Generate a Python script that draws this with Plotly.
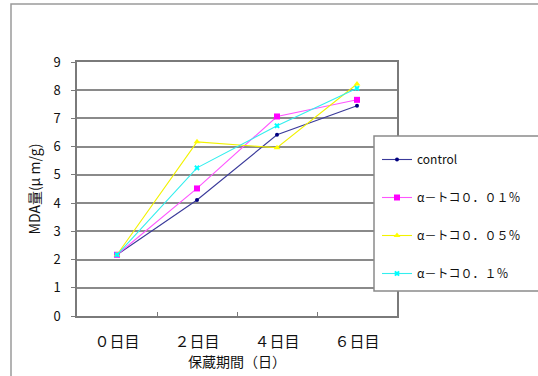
import plotly.graph_objects as go

# Storage days (x categories) and MDA values per treatment
days = ["０日目", "２日目", "４日目", "６日目"]
series_names = ["control", "α－トコ０．０１％", "α－トコ０．０５％", "α－トコ０．１％"]
control = [2.17, 4.11, 6.42, 7.45]
toco_001 = [2.17, 4.52, 7.07, 7.66]
toco_005 = [2.17, 6.17, 5.96, 8.22]
toco_01 = [2.17, 5.25, 6.74, 8.07]
y_ticks = [0, 1, 2, 3, 4, 5, 6, 7, 8, 9]

all_values = [control, toco_001, toco_005, toco_01]
line_colors = ["#3a3a9a", "#ff55ff", "#f2f200", "#33eeee"]
marker_colors = ["#000080", "#ff00ff", "#ffff00", "#00ffff"]
symbols = ["circle", "square", "triangle-up", "x"]
marker_sizes = [4, 6, 6, 5]

JP = "Noto Sans CJK JP, sans-serif"

fig = go.Figure()
for i, (name, vals) in enumerate(zip(series_names, all_values)):
    fig.add_trace(go.Scatter(
        x=days, y=vals, name=name, mode="lines+markers",
        legendgroup=f"g{i}",
        line=dict(color=line_colors[i], width=1.1),
        marker=dict(color=marker_colors[i], symbol=symbols[i],
                    size=marker_sizes[i], line=dict(width=0)),
    ))

W, H = 538, 376
L, R, T, B = 77, 141, 62, 60
pw, ph = W - L - R, H - T - B


def px_x(p):
    return (p - L) / pw


def px_y(p):
    return (H - B - p) / ph


fig.update_layout(
    width=W, height=H,
    margin=dict(l=L, r=R, t=T, b=B),
    paper_bgcolor="white", plot_bgcolor="white",
    font=dict(family=JP, size=13, color="#111111"),
    showlegend=True,
    legend=dict(
        x=px_x(377), y=px_y(145), xanchor="left", yanchor="top",
        bgcolor="rgba(0,0,0,0)", borderwidth=0,
        font=dict(family=JP, size=12, color="#111111"),
        itemwidth=30, tracegroupgap=19, traceorder="grouped",
    ),
    xaxis=dict(
        type="category", categoryarray=days, range=[-0.5, 3.5],
        showgrid=False, showline=True, linecolor="#7a7a7a", linewidth=1.5,
        mirror=True, ticks="inside", ticklen=4, tickcolor="#7a7a7a",
        tickson="boundaries", ticklabelstandoff=11,
        tickfont=dict(family=JP, size=15, color="#111111"),
        title=dict(text="保蔵期間（日）", standoff=0,
                   font=dict(family=JP, size=14, color="#111111")),
        fixedrange=True,
    ),
    yaxis=dict(
        range=[0, 9], tickvals=y_ticks, showgrid=True,
        gridcolor="#8a8a8a", gridwidth=1.5,
        showline=True, linecolor="#7a7a7a", linewidth=1.5, mirror=True,
        ticks="outside", ticklen=4, tickcolor="#7a7a7a",
        ticklabelstandoff=8, zeroline=False,
        tickfont=dict(family=JP, size=13, color="#111111"),
        title=dict(text="MDA量(μ m/g)", standoff=10,
                   font=dict(family=JP, size=14, color="#111111")),
        fixedrange=True,
    ),
    shapes=[
        # outer chart-area frame
        dict(type="rect", xref="paper", yref="paper",
             x0=px_x(11), x1=px_x(560), y0=px_y(4), y1=px_y(400),
             line=dict(color="#9a9a9a", width=1.5), fillcolor="rgba(0,0,0,0)",
             layer="below"),
        # legend frame
        dict(type="rect", xref="paper", yref="paper",
             x0=px_x(374), x1=px_x(560), y0=px_y(136), y1=px_y(291),
             line=dict(color="#8a8a8a", width=1.5), fillcolor="white",
             layer="above"),
    ],
)

fig.write_html("out.html")
